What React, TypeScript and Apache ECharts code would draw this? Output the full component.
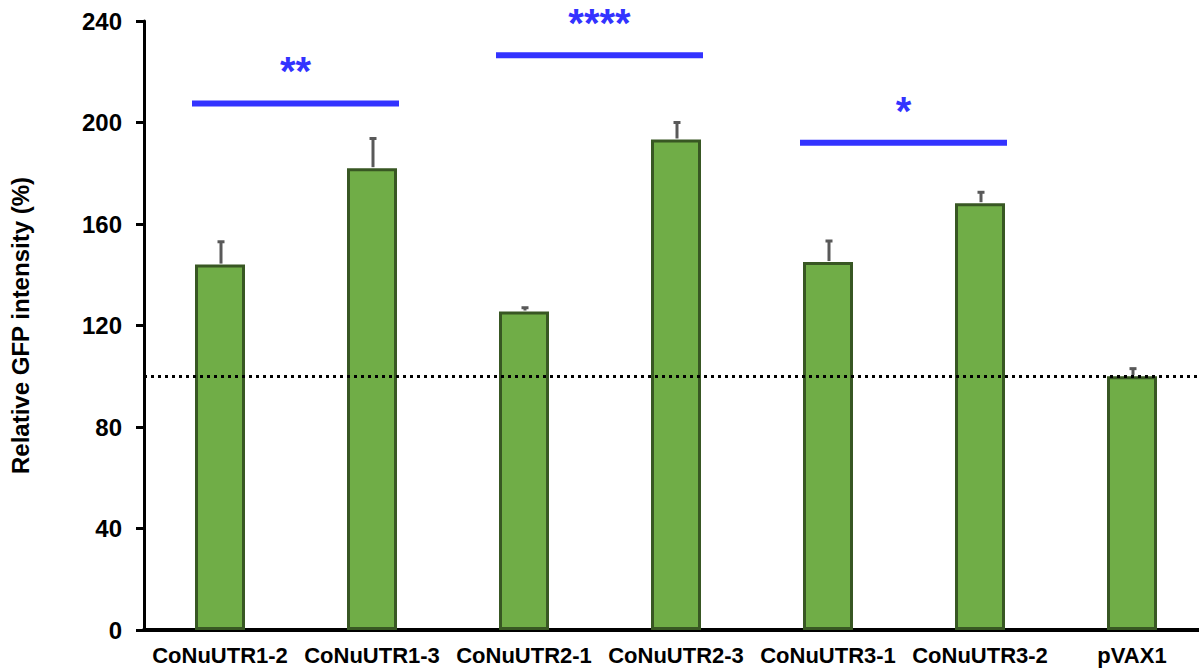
import React, { useEffect, useRef } from "react";
import * as echarts from "echarts";

const categories = ["CoNuUTR1-2", "CoNuUTR1-3", "CoNuUTR2-1", "CoNuUTR2-3", "CoNuUTR3-1", "CoNuUTR3-2", "pVAX1"];
const means = [144, 182, 125.5, 193.3, 145, 168.2, 100];
const errTops = [153, 193.7, 127, 200, 153.3, 172.5, 103];
const yTicks = { min: 0, max: 240, interval: 40 };
const refLine = 100;
const sigStart = [0, 2, 4];
const sigEnd = [1, 3, 5];
const sigY = [207.5, 226.5, 192];
const sigLabels = ["**", "****", "*"];

const FONT = "'Liberation Sans', Arial, Helvetica, sans-serif";

export default function App() {
  const ref = useRef<HTMLDivElement>(null);
  useEffect(() => {
    if (!ref.current) return;
    const chart = echarts.init(ref.current, null, { renderer: "svg" });
    const errData = means.map((m, i) => [i, m, errTops[i]]);
    const sigData = sigStart.map((s, i) => [s, sigEnd[i], sigY[i], sigLabels[i]]);
    chart.setOption({
      animation: false,
      backgroundColor: "#ffffff",
      grid: { left: 139, right: 2, top: 21, bottom: 40, containLabel: false },
      xAxis: {
        type: "category",
        data: categories,
        axisLine: { show: true, lineStyle: { color: "#000", width: 4 } },
        axisTick: { show: false },
        axisLabel: { color: "#000", fontFamily: FONT, fontWeight: "bold", fontSize: 22, margin: 14, interval: 0 },
        splitLine: { show: false },
      },
      yAxis: {
        type: "value",
        min: yTicks.min,
        max: yTicks.max,
        interval: yTicks.interval,
        name: "Relative GFP intensity (%)",
        nameLocation: "middle",
        nameGap: 112,
        nameTextStyle: { color: "#000", fontFamily: FONT, fontWeight: "bold", fontSize: 24 },
        axisLine: { show: true, lineStyle: { color: "#000", width: 3 } },
        axisTick: { show: true, inside: false, length: 8, lineStyle: { color: "#000", width: 3 } },
        axisLabel: { color: "#000", fontFamily: FONT, fontWeight: "bold", fontSize: 24, margin: 22 },
        splitLine: { show: false },
      },
      series: [
        {
          type: "bar",
          data: means,
          barWidth: 50,
          itemStyle: { color: "#70AD47", borderColor: "#385723", borderWidth: 3 },
          markLine: {
            silent: true,
            symbol: "none",
            label: { show: false },
            lineStyle: { color: "#000", width: 3, type: [3, 4] },
            data: [{ yAxis: refLine }],
            z: 5,
          },
          z: 2,
        },
        {
          type: "custom",
          data: errData,
          encode: { x: 0, y: [1, 2] },
          z: 3,
          renderItem: (params: any, api: any) => {
            const i = api.value(0);
            const p1 = api.coord([i, api.value(1)]);
            const p2 = api.coord([i, api.value(2)]);
            const x = p1[0] + 1;
            const style = { stroke: "#595959", lineWidth: 3 };
            return {
              type: "group",
              children: [
                { type: "line", shape: { x1: x, y1: p1[1] - 1, x2: x, y2: p2[1] }, style },
                { type: "line", shape: { x1: x - 3.5, y1: p2[1], x2: x + 3.5, y2: p2[1] }, style },
              ],
            };
          },
        },
        {
          type: "custom",
          data: sigData,
          encode: { x: [0, 1], y: 2 },
          z: 4,
          renderItem: (params: any, api: any) => {
            const y = api.value(2);
            const p1 = api.coord([api.value(0), y]);
            const p2 = api.coord([api.value(1), y]);
            const x1 = p1[0] - 28;
            const x2 = p2[0] + 27;
            const label = sigLabels[params.dataIndex];
            return {
              type: "group",
              children: [
                { type: "line", shape: { x1, y1: p1[1], x2, y2: p1[1] }, style: { stroke: "#3333FF", lineWidth: 6 } },
                {
                  type: "text",
                  style: {
                    text: label,
                    x: (x1 + x2) / 2,
                    y: p1[1] - 32,
                    align: "center",
                    verticalAlign: "middle",
                    fill: "#3333FF",
                    font: `bold 40px ${FONT}`,
                  },
                },
              ],
            };
          },
        },
      ],
    });
    return () => chart.dispose();
  }, []);
  return (
    <div style={{ position: "fixed", left: 0, top: 0, width: 1199, height: 670, overflow: "hidden", background: "#fff" }}>
      <div ref={ref} style={{ width: 1210, height: 670 }} />
    </div>
  );
}
